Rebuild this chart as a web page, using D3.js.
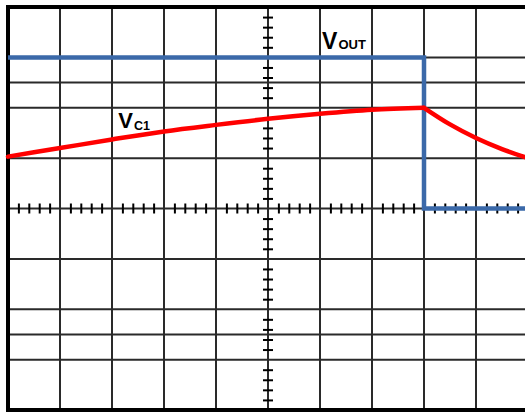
<!DOCTYPE html>
<html>
<head>
<meta charset="utf-8">
<script src="https://cdn.jsdelivr.net/npm/d3@7"></script>
<style>
  body { margin: 0; background: #fff; }
  svg { display: block; }
  text { font-family: "Liberation Sans", Arial, sans-serif; font-weight: bold; fill: #000; }
</style>
</head>
<body>
<div id="chart"></div>
<script>
// time in divisions, voltages in divisions
const voutTime = [0, 8, 8, 10],
	vout = [3, 3, 0, 0],
	chargeTime = [0, 1, 2, 3, 4, 5, 6, 7, 8],
	chargeV = [1.03, 1.2, 1.37, 1.53, 1.66, 1.78, 1.88, 1.96, 2.0],
	dischargeTime = [8, 8.5, 9, 9.5, 10],
	dischargeV = [2.0, 1.67, 1.4, 1.18, 1.0],
	gridX = [1, 2, 3, 4, 5, 6, 7, 8, 9],
	gridY = [3, 2.5, 2, 1, 0, -1, -2, -2.5, -3];

const W = 525, H = 412,
	margin = {left: 8, top: 7},
	plotW = 520, plotH = 403;

const svg = d3.select('#chart')
	.append('svg')
	.attr('width', W)
	.attr('height', H);

const x = d3.scaleLinear().domain([0, 10]).range([margin.left, margin.left + plotW]);
const y = d3.scaleLinear().domain([-4, 4]).range([margin.top + plotH, margin.top]);

// grid
svg.append('g')
	.selectAll('line')
	.data(gridX)
	.enter()
	.append('line')
		.attr('x1', d => x(d)).attr('x2', d => x(d))
		.attr('y1', y(4)).attr('y2', y(-4))
		.attr('stroke', '#2a2a2a')
		.attr('stroke-width', 2);

svg.append('g')
	.selectAll('line')
	.data(gridY)
	.enter()
	.append('line')
		.attr('x1', x(0)).attr('x2', x(10))
		.attr('y1', d => y(d)).attr('y2', d => y(d))
		.attr('stroke', '#2a2a2a')
		.attr('stroke-width', 2);

// centre axes with minor ticks
const xTicks = d3.range(0, 10.01, 0.2).filter(d => Math.abs(d - Math.round(d)) > 0.01);
const yTicks = d3.range(-4, 4.01, 0.2).filter(d => Math.abs(d - Math.round(d)) > 0.01);

const xAxis = d3.axisBottom(x).tickValues(xTicks).tickSize(10).tickFormat('');
const yAxis = d3.axisLeft(y).tickValues(yTicks).tickSize(10).tickFormat('');

svg.append('g')
	.attr('transform', `translate(0,${y(0) - 5})`)
	.call(xAxis)
	.call(g => g.select('.domain').remove())
	.selectAll('line').attr('stroke', '#000').attr('stroke-width', 2);

svg.append('g')
	.attr('transform', `translate(${x(5) + 5},0)`)
	.call(yAxis)
	.call(g => g.select('.domain').remove())
	.selectAll('line').attr('stroke', '#000').attr('stroke-width', 2);

// frame (left, top, bottom)
svg.append('path')
	.attr('d', `M${x(10) + 10},${y(4)} H${x(0)} V${y(-4)} H${x(10) + 10}`)
	.attr('fill', 'none')
	.attr('stroke', '#000')
	.attr('stroke-width', 4);

// traces
const line = d3.line().x(d => x(d[0])).y(d => y(d[1]));
const smooth = d3.line().x(d => x(d[0])).y(d => y(d[1])).curve(d3.curveMonotoneX);

svg.append('path')
	.attr('d', line(d3.zip(voutTime, vout)))
	.attr('fill', 'none')
	.attr('stroke', '#3b69a9')
	.attr('stroke-width', 4.5);

svg.append('path')
	.attr('d', smooth(d3.zip(chargeTime, chargeV)))
	.attr('fill', 'none')
	.attr('stroke', '#ff0000')
	.attr('stroke-width', 4.5)
	.attr('stroke-linecap', 'round');

svg.append('path')
	.attr('d', smooth(d3.zip(dischargeTime, dischargeV)))
	.attr('fill', 'none')
	.attr('stroke', '#ff0000')
	.attr('stroke-width', 4.5)
	.attr('stroke-linecap', 'round');

// labels
const lab1 = svg.append('text').attr('x', x(6.04)).attr('y', y(3.17));
lab1.append('tspan').attr('font-size', 23).text('V');
lab1.append('tspan').attr('font-size', 13).attr('dx', 1).text('OUT');

const lab2 = svg.append('text').attr('x', x(2.12)).attr('y', y(1.6));
lab2.append('tspan').attr('font-size', 22).text('V');
lab2.append('tspan').attr('font-size', 12.5).attr('dx', 1).attr('dy', 2).text('C1');
</script>
</body>
</html>
